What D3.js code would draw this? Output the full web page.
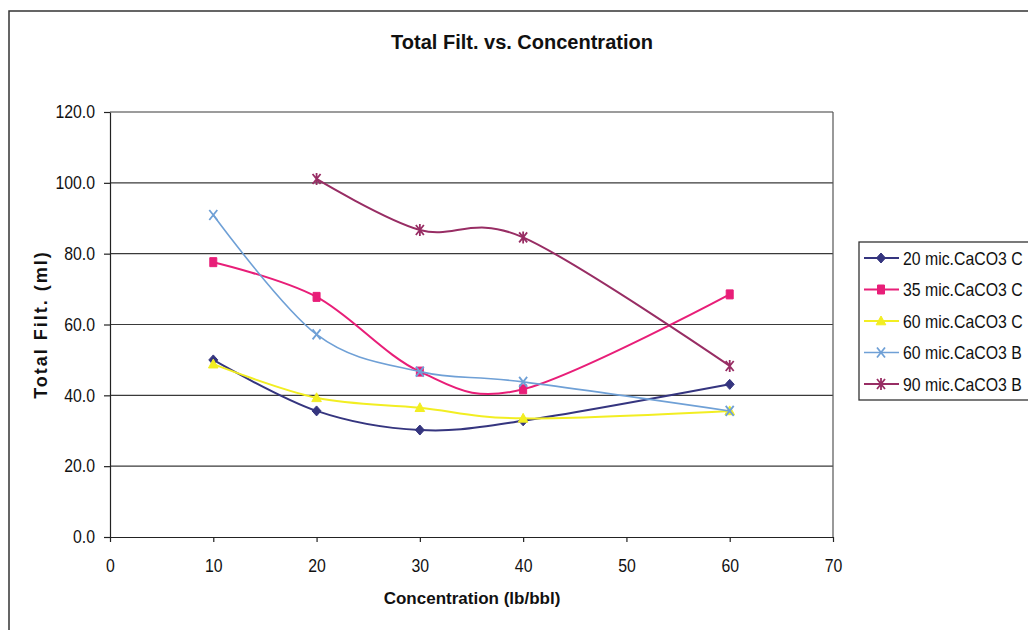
<!DOCTYPE html>
<html>
<head>
<meta charset="utf-8">
<script src="https://cdn.jsdelivr.net/npm/d3@7"></script>
<style>
  body { margin: 0; background: #fff; }
  text { font-family: "Liberation Sans", Arial, sans-serif; fill: #111; }
</style>
</head>
<body>
<div id="chart"></div>
<script>
// values
const conc = [10, 20, 30, 40, 60];
const mic20C = [50.0, 35.6, 30.2, 32.8, 43.1];
const mic35C = [77.6, 67.8, 46.7, 41.7, 68.5];
const mic60C = [48.8, 39.3, 36.5, 33.5, 35.6];
const mic60B = [90.9, 57.2, 46.7, 43.8, 35.6];
const mic90B = [null, 101.1, 86.7, 84.6, 48.3];

const seriesNames = ["20 mic.CaCO3 C", "35 mic.CaCO3 C", "60 mic.CaCO3 C", "60 mic.CaCO3 B", "90 mic.CaCO3 B"];
const xTicks = [0, 10, 20, 30, 40, 50, 60, 70];
const yTicks = [0, 20, 40, 60, 80, 100, 120];

const width = 1028;
const height = 630;
const plot = { left: 110, right: 833, top: 112, bottom: 537 };

const svg = d3
  .select("#chart")
  .append("svg")
  .attr("width", width)
  .attr("height", height);

// outer chart frame (runs off the right/bottom like the scan)
svg.append("rect")
  .attr("x", 9).attr("y", 11)
  .attr("width", 1100).attr("height", 700)
  .attr("fill", "none")
  .attr("stroke", "#333")
  .attr("stroke-width", 1.5);

const x = d3.scaleLinear().domain([0, 70]).range([plot.left, plot.right]);
const y = d3.scaleLinear().domain([0, 120]).range([plot.bottom, plot.top]);

// gridlines
svg.append("g")
  .selectAll("line")
  .data(yTicks.slice(1))
  .enter()
  .append("line")
  .attr("x1", plot.left).attr("x2", plot.right)
  .attr("y1", (d) => y(d)).attr("y2", (d) => y(d))
  .attr("stroke", "#3a3a3a")
  .attr("stroke-width", 1.2);

// right border of plot area
svg.append("line")
  .attr("x1", plot.right).attr("x2", plot.right)
  .attr("y1", plot.top).attr("y2", plot.bottom)
  .attr("stroke", "#555")
  .attr("stroke-width", 1.2);

const xAxis = svg.append("g")
  .attr("transform", `translate(0,${plot.bottom})`)
  .call(d3.axisBottom(x).tickValues(xTicks).tickFormat(d3.format("d")).tickSize(5).tickPadding(17).tickSizeOuter(0));

const yAxis = svg.append("g")
  .attr("transform", `translate(${plot.left},0)`)
  .call(d3.axisLeft(y).tickValues(yTicks).tickFormat(d3.format(".1f")).tickSize(6).tickPadding(11).tickSizeOuter(0));

[xAxis, yAxis].forEach((ax) => {
  ax.select(".domain").attr("stroke", "#222").attr("stroke-width", 1.2);
  ax.selectAll(".tick line").attr("stroke", "#222").attr("stroke-width", 1.2);
  ax.selectAll(".tick text")
    .attr("font-size", 18)
    .attr("font-family", "Liberation Sans, Arial, sans-serif")
    .attr("fill", "#111")
    .attr("transform", "scale(0.88,1)");
});

// titles
svg.append("text")
  .attr("x", 522).attr("y", 49)
  .attr("text-anchor", "middle")
  .attr("font-size", 20)
  .attr("font-weight", "bold")
  .text("Total Filt. vs. Concentration");

svg.append("text")
  .attr("x", 472).attr("y", 604)
  .attr("text-anchor", "middle")
  .attr("font-size", 17)
  .attr("font-weight", "bold")
  .text("Concentration (lb/bbl)");

svg.append("text")
  .attr("transform", `translate(47,${(plot.top + plot.bottom) / 2}) rotate(-90)`)
  .attr("text-anchor", "middle")
  .attr("font-size", 18)
  .attr("font-weight", "bold")
  .attr("letter-spacing", 2)
  .text("Total Filt. (ml)");

// marker shapes
const markerPaths = {
  diamond: "M0,-5L4.5,0L0,5L-4.5,0Z",
  square: "M-3.5,-4.5H3.5V4.5H-3.5Z",
  triangle: "M0,-5L4.8,3.8H-4.8Z",
  cross: "M-4,-5L4,5M-4,5L4,-5",
  star: "M-4,-5L4,5M-4,5L4,-5M0,-6V6"
};

const series = [
  { name: seriesNames[0], values: mic20C, color: "#35357f", marker: "diamond", filled: true, lw: 2 },
  { name: seriesNames[1], values: mic35C, color: "#e81e78", marker: "square", filled: true, lw: 2 },
  { name: seriesNames[2], values: mic60C, color: "#f2ee22", marker: "triangle", filled: true, lw: 2 },
  { name: seriesNames[3], values: mic60B, color: "#6fa0d6", marker: "cross", filled: false, lw: 1.6 },
  { name: seriesNames[4], values: mic90B, color: "#982d64", marker: "star", filled: false, lw: 2 }
];

const line = d3
  .line()
  .defined((d) => d.v != null)
  .x((d) => x(d.c))
  .y((d) => y(d.v))
  .curve(d3.curveCardinal.tension(0));

let drawMarker = (g, s) => {
  g.append("path")
    .attr("d", markerPaths[s.marker])
    .attr("fill", s.filled ? s.color : "none")
    .attr("stroke", s.color)
    .attr("stroke-width", s.filled ? 1 : 1.8);
};

series.forEach((s) => {
  let pts = conc.map((c, i) => ({ c: c, v: s.values[i] })).filter((d) => d.v != null);

  svg.append("path")
    .datum(pts)
    .attr("d", line)
    .attr("fill", "none")
    .attr("stroke", s.color)
    .attr("stroke-width", s.lw);

  pts.forEach((p) => {
    let g = svg.append("g").attr("transform", `translate(${x(p.c)},${y(p.v)})`);
    drawMarker(g, s);
  });
});

// legend
const legend = svg.append("g");
legend.append("rect")
  .attr("x", 859).attr("y", 242)
  .attr("width", 300).attr("height", 158)
  .attr("fill", "#fff")
  .attr("stroke", "#333")
  .attr("stroke-width", 1.3);

let ly = 258;
series.forEach((s) => {
  legend.append("line")
    .attr("x1", 864).attr("x2", 899)
    .attr("y1", ly).attr("y2", ly)
    .attr("stroke", s.color)
    .attr("stroke-width", s.lw);
  let g = legend.append("g").attr("transform", `translate(881,${ly})`);
  drawMarker(g, s);
  legend.append("text")
    .attr("transform", `translate(903,${ly + 6.5}) scale(0.88,1)`)
    .attr("font-size", 18)
    .text(s.name);
  ly += 31.5;
});
</script>
</body>
</html>
